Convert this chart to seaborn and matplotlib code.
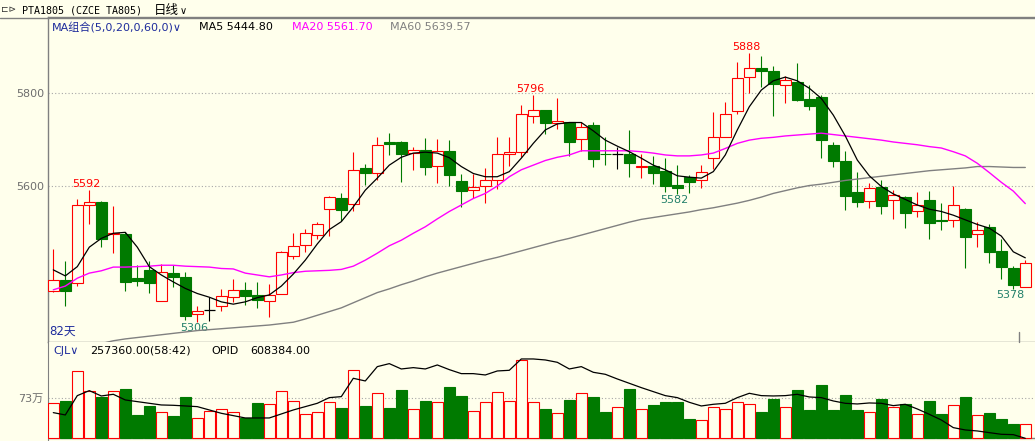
import numpy as np
import pandas as pd
import matplotlib
matplotlib.use("Agg")
import matplotlib.pyplot as plt
from matplotlib.lines import Line2D
import seaborn as sns

# ---------------- data ----------------
opens = [5373, 5397, 5390, 5558, 5565, 5496, 5496, 5401, 5419, 5351,
         5412, 5404, 5323, 5333, 5342, 5360, 5376, 5365, 5351, 5368,
         5449, 5472, 5494, 5550, 5574, 5561, 5639, 5627, 5695, 5695,
         5671, 5677, 5643, 5676, 5611, 5591, 5601, 5612, 5668, 5673,
         5750, 5763, 5735, 5738, 5701, 5732, 5670, 5668, 5669, 5642,
         5643, 5632, 5602, 5619, 5612, 5660, 5706, 5761, 5835, 5854,
         5848, 5817, 5824, 5788, 5792, 5688, 5654, 5586, 5567, 5598,
         5569, 5576, 5545, 5570, 5527, 5526, 5550, 5496, 5512, 5460,
         5423, 5381]
highs = [5463, 5438, 5572, 5592, 5568, 5557, 5501, 5430, 5438, 5431,
         5429, 5414, 5342, 5360, 5377, 5399, 5392, 5392, 5389, 5459,
         5498, 5508, 5523, 5578, 5585, 5673, 5647, 5706, 5714, 5697,
         5684, 5703, 5701, 5699, 5626, 5625, 5639, 5705, 5705, 5775,
         5796, 5764, 5789, 5739, 5738, 5738, 5705, 5684, 5720, 5669,
         5665, 5660, 5645, 5623, 5645, 5759, 5781, 5868, 5888, 5881,
         5860, 5837, 5865, 5818, 5796, 5694, 5675, 5630, 5606, 5614,
         5591, 5578, 5587, 5589, 5563, 5600, 5553, 5522, 5518, 5486,
         5427, 5440]
lows = [5372, 5342, 5385, 5518, 5469, 5456, 5374, 5385, 5370, 5351,
        5383, 5310, 5306, 5308, 5331, 5350, 5344, 5336, 5318, 5366,
        5443, 5458, 5485, 5493, 5525, 5545, 5603, 5613, 5667, 5609,
        5634, 5623, 5606, 5600, 5555, 5575, 5564, 5593, 5643, 5662,
        5735, 5712, 5722, 5665, 5676, 5642, 5645, 5636, 5619, 5617,
        5604, 5586, 5582, 5584, 5596, 5637, 5705, 5755, 5801, 5814,
        5750, 5780, 5784, 5764, 5661, 5642, 5549, 5555, 5553, 5540,
        5529, 5510, 5534, 5485, 5506, 5512, 5424, 5469, 5434, 5399,
        5378, 5381]
closes = [5397, 5374, 5559, 5565, 5486, 5499, 5393, 5396, 5391, 5414,
          5403, 5320, 5330, 5333, 5362, 5375, 5363, 5355, 5365, 5457,
          5471, 5498, 5519, 5576, 5549, 5634, 5629, 5688, 5691, 5670,
          5677, 5640, 5675, 5624, 5589, 5598, 5612, 5668, 5673, 5755,
          5763, 5735, 5740, 5696, 5727, 5659, 5668, 5668, 5650, 5643,
          5629, 5601, 5595, 5609, 5630, 5705, 5755, 5832, 5854, 5849,
          5821, 5828, 5786, 5773, 5699, 5655, 5579, 5566, 5595, 5557,
          5580, 5542, 5558, 5521, 5524, 5558, 5491, 5505, 5458, 5426,
          5387, 5433]
ma5 = [5419, 5406, 5426, 5468, 5487, 5498, 5500, 5468, 5426, 5408,
       5393, 5379, 5368, 5360, 5350, 5345, 5350, 5359, 5365, 5384,
       5410, 5440, 5475, 5506, 5523, 5555, 5591, 5617, 5645, 5662,
       5671, 5673, 5671, 5661, 5642, 5627, 5620, 5620, 5631, 5660,
       5692, 5721, 5734, 5737, 5737, 5719, 5699, 5686, 5674, 5660,
       5645, 5635, 5622, 5619, 5617, 5631, 5667, 5721, 5771, 5807,
       5827, 5835, 5827, 5811, 5789, 5753, 5708, 5656, 5622, 5599,
       5583, 5571, 5559, 5550, 5545, 5537, 5527, 5517, 5509, 5492,
       5458, 5445]
ma20 = [5376, 5384, 5401, 5412, 5417, 5425, 5425, 5426, 5427, 5429,
        5429, 5427, 5426, 5425, 5422, 5421, 5412, 5408, 5404, 5408,
        5413, 5416, 5417, 5418, 5420, 5427, 5440, 5455, 5471, 5483,
        5498, 5512, 5529, 5545, 5559, 5573, 5584, 5600, 5620, 5635,
        5645, 5655, 5662, 5667, 5676, 5676, 5676, 5676, 5676, 5674,
        5671, 5667, 5665, 5665, 5667, 5671, 5681, 5692, 5699, 5703,
        5705, 5708, 5710, 5712, 5714, 5711, 5708, 5705, 5702, 5699,
        5695, 5692, 5689, 5685, 5682, 5674, 5665, 5649, 5629, 5608,
        5589, 5562]
ma60 = [5240, 5245, 5250, 5255, 5260, 5266, 5270, 5273, 5276, 5279,
        5282, 5285, 5288, 5290, 5292, 5294, 5296, 5298, 5300, 5303,
        5306, 5313, 5321, 5329, 5337, 5348, 5359, 5370, 5378, 5387,
        5395, 5404, 5412, 5419, 5426, 5433, 5440, 5446, 5453, 5460,
        5467, 5474, 5481, 5487, 5494, 5501, 5508, 5515, 5522, 5528,
        5532, 5536, 5540, 5544, 5549, 5553, 5558, 5563, 5569, 5576,
        5584, 5590, 5596, 5601, 5604, 5608, 5612, 5615, 5618, 5621,
        5624, 5627, 5630, 5633, 5635, 5637, 5639, 5642, 5642, 5641,
        5640, 5640]
# volume in 万 (10k lots)
volume = [63.9, 68.1, 122.9, 85.8, 76.0, 85.8, 90.6, 42.6, 59.6, 47.5,
          41.4, 75.4, 37.1, 49.3, 53.5, 47.5, 36.5, 64.5, 62.1, 85.8,
          67.5, 43.8, 47.5, 65.7, 55.4, 124.7, 59.0, 82.1, 55.4, 88.2,
          53.5, 68.1, 65.7, 93.7, 77.3, 49.3, 65.7, 84.0, 68.1, 143.0,
          65.7, 53.5, 45.6, 70.0, 82.1, 75.4, 48.1, 56.6, 90.0, 52.9,
          60.8, 66.3, 66.3, 35.3, 32.8, 56.6, 52.9, 65.7, 62.1, 48.1,
          71.8, 56.6, 88.2, 51.7, 97.3, 51.7, 79.1, 51.7, 47.5, 71.8,
          56.6, 62.1, 43.8, 68.1, 43.8, 60.2, 75.4, 42.0, 46.2, 35.3,
          26.2, 25.7]
opid = [723900, 713400, 800400, 822900, 798900, 806400, 780900, 773400, 765900, 758400,
        756900, 753900, 750900, 735900, 720900, 710400, 699900, 699900, 699900, 717900,
        735900, 750900, 765900, 791400, 795900, 878400, 866400, 930900, 944400, 920400,
        926400, 920400, 938400, 917400, 899400, 899400, 893400, 911400, 914400, 965400,
        965400, 960900, 950400, 920400, 930900, 905400, 896400, 875400, 855900, 836400,
        818400, 800400, 791400, 770400, 753900, 761400, 765900, 791400, 810900, 800400,
        798900, 800400, 806400, 794400, 791400, 776400, 765900, 762900, 767400, 765900,
        755400, 761400, 740400, 716400, 690900, 656400, 645900, 641400, 633900, 626400,
        624900, 608384]
price_ticks = [5600, 5800]
vol_ticks = [73]
vol_tick_labels = ["73万"]
high_marks = [(3, 5592), (40, 5796), (58, 5888)]
low_marks = [(12, 5306), (52, 5582), (80, 5378)]

# ---------------- style ----------------
BG = "#FFFFEC"
RED = "#FF0000"
GREEN = "#007A00"
GRAYLINE = "#808080"
sns.set_style("white")
plt.rcParams["font.family"] = ["DejaVu Sans", "Noto Sans CJK SC"]
plt.rcParams["axes.facecolor"] = BG
plt.rcParams["figure.facecolor"] = BG

W, H = 1035, 441
fig = plt.figure(figsize=(W / 100, H / 100), dpi=100)

def fx(px):
    return px / W

def fy(py):
    return 1 - py / H

ax = fig.add_axes([fx(48), fy(342), fx(1035) - fx(48), fy(17) - fy(342)])
axv = fig.add_axes([fx(48), 0, fx(1035) - fx(48), fy(342)])

n = len(closes)
x = np.arange(n)
O = np.array(opens, float)
C = np.array(closes, float)
Hh = np.array(highs, float)
L = np.array(lows, float)
up = C > O
doji = C == O

edge = np.where(doji, "black", np.where(up, RED, GREEN))
face = np.where(up | doji, BG, GREEN)
bottoms = np.minimum(O, C)
heights = np.maximum(np.abs(C - O), 0.5)

# ---------------- price panel ----------------
ax.vlines(x, L, Hh, colors=edge, lw=0.8, zorder=2)
nd = ~doji
ax.bar(x[nd], heights[nd], bottom=bottoms[nd], width=0.88, color=face[nd],
       edgecolor=edge[nd], linewidth=0.8, zorder=3)
ax.hlines(O[doji], x[doji] - 0.44, x[doji] + 0.44, colors="black", lw=0.9, zorder=3)

df = pd.DataFrame({"x": x, "ma5": ma5, "ma20": ma20, "ma60": ma60,
                   "vol": volume, "opid": opid})
sns.lineplot(data=df, x="x", y="ma60", ax=ax, color="#808080", lw=1.0, zorder=4)
sns.lineplot(data=df, x="x", y="ma20", ax=ax, color="#FF00FF", lw=1.0, zorder=4)
sns.lineplot(data=df, x="x", y="ma5", ax=ax, color="black", lw=0.9, zorder=5)

xl = ((48 - 53.3) / 12, (1035 - 53.3) / 12)
ax.set_xlim(*xl)
ax.set_ylim(5600 - (342 - 186) * 2.158, 5600 + (186 - 17) * 2.158)
ax.set_xlabel("")
ax.set_ylabel("")
ax.set_xticks([])
ax.set_yticks(price_ticks)
ax.set_yticklabels([str(t) for t in price_ticks])
ax.tick_params(axis="y", length=0, pad=3, labelsize=8, labelcolor="#6E6E6E")
ax.grid(axis="y", linestyle=(0, (1, 2)), color="#A8A8A8", lw=0.8)
ax.grid(axis="x", visible=False)
for s in ["right"]:
    ax.spines[s].set_visible(False)
for s in ["left", "top", "bottom"]:
    ax.spines[s].set_color(GRAYLINE)
    ax.spines[s].set_linewidth(1.0)

for i, v in high_marks:
    ax.annotate(str(v), xy=(i, v), xytext=(-3, 1), textcoords="offset pixels",
                ha="center", va="bottom", color=RED, fontsize=8)
for i, v in low_marks:
    ax.annotate(str(v), xy=(i, v), xytext=(-3, -1), textcoords="offset pixels",
                ha="center", va="top", color="#23806A", fontsize=8)

# ---------------- volume panel ----------------
vol_up = C >= O
vedge = np.where(vol_up, RED, GREEN)
vface = np.where(vol_up, BG, GREEN)
axv.bar(x, volume, width=0.88, color=vface, edgecolor=vedge, linewidth=0.8, zorder=3)
axv.set_xlim(*xl)
axv.set_ylim(-(441 - 438.3) * 1.825, (438.3 - 342) * 1.825)
axv.set_xticks([])
axv.set_yticks(vol_ticks)
axv.set_yticklabels(vol_tick_labels)
axv.tick_params(axis="y", length=0, pad=3, labelsize=8, labelcolor="#6E6E6E")
axv.grid(axis="y", linestyle=(0, (1, 2)), color="#A8A8A8", lw=0.8)
axv.grid(axis="x", visible=False)
axv.set_xlabel("")
axv.set_ylabel("")
axv.axhline(0, color=GRAYLINE, lw=1.0, zorder=2)
for s in ["right", "top", "bottom"]:
    axv.spines[s].set_visible(False)
axv.spines["left"].set_color(GRAYLINE)

axo = axv.twinx()
sns.lineplot(data=df, x="x", y="opid", ax=axo, color="black", lw=0.9, zorder=5)
axo.set_xlim(*xl)
axo.set_ylim(608384 - 2.7 * 4500, 608384 + 96.3 * 4500)
axo.set_yticks([])
axo.set_xlabel("")
axo.set_ylabel("")
for s in axo.spines.values():
    s.set_visible(False)
axo.patch.set_visible(False)

# ---------------- texts & frame ----------------
fig.add_artist(Line2D([0, 1], [fy(17.5), fy(17.5)], color=GRAYLINE, lw=1.0))
fig.add_artist(Line2D([fx(1019), fx(1019)], [fy(342), fy(332)], color=GRAYLINE, lw=1.0))

def t(px, py, s, color="black", size=8, ha="left", **kw):
    fig.text(fx(px), fy(py), s, color=color, fontsize=size, ha=ha, va="center", **kw)

t(1, 9.5, "⊏⊳", color="#333333", size=6.5)
t(22, 10.5, "PTA1805 (CZCE TA805)", size=7.2, family="DejaVu Sans Mono")
t(154, 10.5, "日线", size=9, family=["Noto Sans CJK SC"])
t(180, 10.5, "∨", size=7)

t(52, 27.5, "MA组合(5,0,20,0,60,0)∨", color="#1E2C9C", size=8)
t(199, 27.5, "MA5 5444.80", size=8)
t(292, 27.5, "MA20 5561.70", color="#FF00FF", size=8)
t(390, 27.5, "MA60 5639.57", color="#808080", size=8)
t(49, 331.5, "82天", color="#1E2C9C", size=8.5)

t(53, 350.5, "CJL∨", color="#1E2C9C", size=8)
t(90, 350.5, "257360.00(58:42)", size=8)
t(211, 350.5, "OPID", size=8)
t(250, 350.5, "608384.00", size=8)

fig.savefig("out.png", dpi=100, facecolor=BG)
